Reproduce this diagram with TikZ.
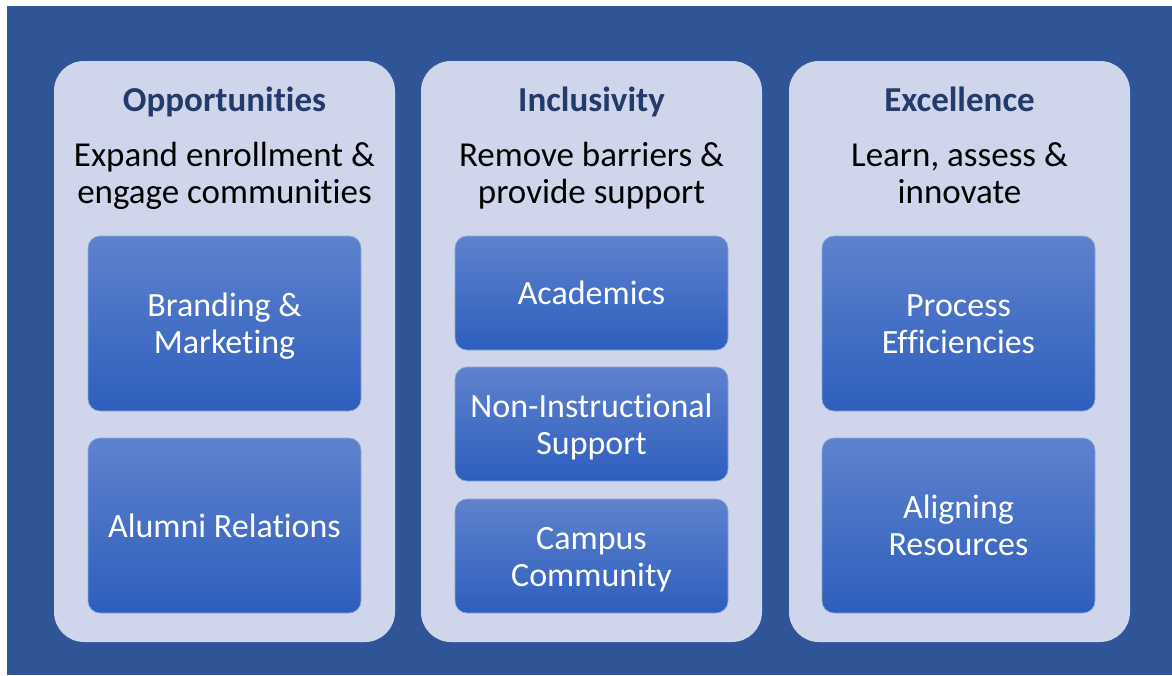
\documentclass[tikz,border=0pt]{standalone}
\usepackage{fontspec}
\setmainfont{Carlito}[RawFeature={-liga;-dlig;-clig}]
\definecolor{bgblue}{HTML}{2F5597}
\definecolor{panelfill}{HTML}{CFD5EA}
\definecolor{titleblue}{HTML}{233A6B}
\definecolor{boxtop}{HTML}{5E82CD}
\definecolor{boxbot}{HTML}{2E5EBD}
\newcommand\ls{\rule[-7pt]{0pt}{37pt}}
\begin{document}
\begin{tikzpicture}[x=1pt,y=-1pt,
  panel/.style={fill=panelfill, rounded corners=30pt, minimum width=341pt, minimum height=581pt, inner sep=0pt},
  titletext/.style={font=\fontsize{35}{37}\selectfont\bfseries, text=titleblue, inner sep=0pt},
  subtext/.style={font=\fontsize{35}{37}\selectfont, text=black, align=center, inner sep=0pt},
  itembox/.style={top color=boxtop, bottom color=boxbot, draw=boxtop!70!white, line width=0.6pt, rounded corners=12pt, minimum width=273pt, text=white, font=\fontsize{34}{37}\selectfont, align=center, inner sep=0pt},
  bigbox/.style={itembox, minimum height=175pt},
  smallbox/.style={itembox, minimum height=114pt}]
\useasboundingbox (0,0) rectangle (1172,675);
\fill[white] (0,0) rectangle (1172,675);
\fill[bgblue] (7,6) rectangle (1172,675);
% panels
\node[panel] (p1) at (224.5,351.5) {};
\node[panel] (p2) at (591.5,351.5) {};
\node[panel] (p3) at (959.5,351.5) {};
% titles
\node[titletext] (t1) at (224.5,100) {\ls Opportunities};
\node[titletext] (t2) at (591.5,100) {\ls Inclusivity};
\node[titletext] (t3) at (959.5,100) {\ls Excellence};
% subtitles
\node[subtext] (s1) at (224.5,173.5) {\ls Expand enrollment \&\\\ls engage communities};
\node[subtext] (s2) at (591.5,173.5) {\ls Remove barriers \&\\\ls provide support};
\node[subtext] (s3) at (959.5,173.5) {\ls Learn, assess \&\\\ls innovate};
% left column
\node[bigbox] (b1) at (224.5,323.5) {\ls Branding \&\\\ls Marketing};
\node[bigbox] (b2) at (224.5,525.5) {\ls Alumni Relations};
% middle column
\node[smallbox] (m1) at (591.5,293) {\ls Academics};
\node[smallbox] (m2) at (591.5,424) {\ls Non-Instructional\\\ls Support};
\node[smallbox] (m3) at (591.5,556) {\ls Campus\\\ls Community};
% right column
\node[bigbox] (r1) at (958.5,323.5) {\ls Process\\\ls Efficiencies};
\node[bigbox] (r2) at (958.5,525.5) {\ls Aligning\\\ls Resources};
\end{tikzpicture}
\end{document}
